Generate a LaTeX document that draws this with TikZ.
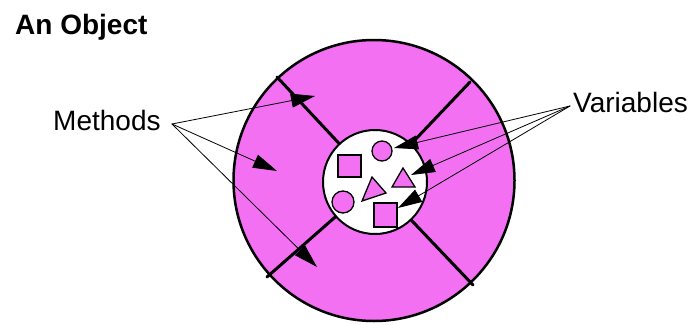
\documentclass[tikz,border=0pt]{standalone}
\usepackage{fontspec}
\setmainfont{Liberation Sans}
\usetikzlibrary{arrows.meta, calc}
\definecolor{objpink}{RGB}{243,112,243}

\begin{document}
\begin{tikzpicture}[x=1pt,y=-1pt, line cap=round, >={Triangle[length=24pt,width=14pt]},
  lbl/.style={anchor=base west, inner sep=0pt, font=\fontsize{28}{30}\selectfont},
  freccia/.style={->, line width=0.8pt},
  forma/.style={draw, line width=1.3pt, fill=objpink}]

  \useasboundingbox (0,0) rectangle (695,324);

  %--- titolo
  \node[lbl, font=\fontsize{28}{30}\selectfont\bfseries] (titolo) at (15,34) {An Object};

  %--- cerchio esterno (riempimento)
  \coordinate (c) at (374,180.5);
  \coordinate (ci) at (375,182);
  \fill[objpink] (c) circle[radius=140.5pt];

  %--- raggi
  \draw[line width=3pt] (277,77) -- (ci);
  \draw[line width=3pt] (470,82) -- (ci);
  \draw[line width=3pt] (267,277) -- (ci);
  \draw[line width=3pt] (473,285) -- (ci);

  %--- nucleo con le variabili
  \draw[fill=white, line width=2pt] (ci) circle[radius=52pt];
  \draw[forma] (338,155) rectangle (361,177);
  \draw[forma] (382,151) circle[radius=10pt];
  \draw[forma] (403,168) -- (392,187) -- (415,187) -- cycle;
  \draw[forma] (372,177) -- (362,201) -- (386,193) -- cycle;
  \draw[forma] (343,202) circle[radius=11pt];
  \draw[forma] (374,203) rectangle (397,227);

  %--- bordo esterno
  \draw[line width=2.5pt] (c) circle[radius=140.5pt];

  %--- etichette
  \node[lbl] (metodi) at (53,130) {Methods};
  \node[lbl] (variabili) at (573,112) {Variables};

  %--- frecce dei metodi
  \coordinate (m0) at (172,124);
  \coordinate (m1) at (315,96);
  \coordinate (m2) at (277,171);
  \coordinate (m3) at (317,267);
  \draw[freccia] (m0) -- (m1);
  \draw[freccia] (m0) -- (m2);
  \draw[freccia] (m0) -- (m3);

  %--- frecce delle variabili
  \coordinate (v0) at (570,106);
  \coordinate (v1) at (394,148);
  \coordinate (v2) at (411,175);
  \coordinate (v3) at (398,208);
  \draw[freccia] (v0) -- (v1);
  \draw[freccia] (v0) -- (v2);
  \draw[freccia] (v0) -- (v3);
\end{tikzpicture}
\end{document}
